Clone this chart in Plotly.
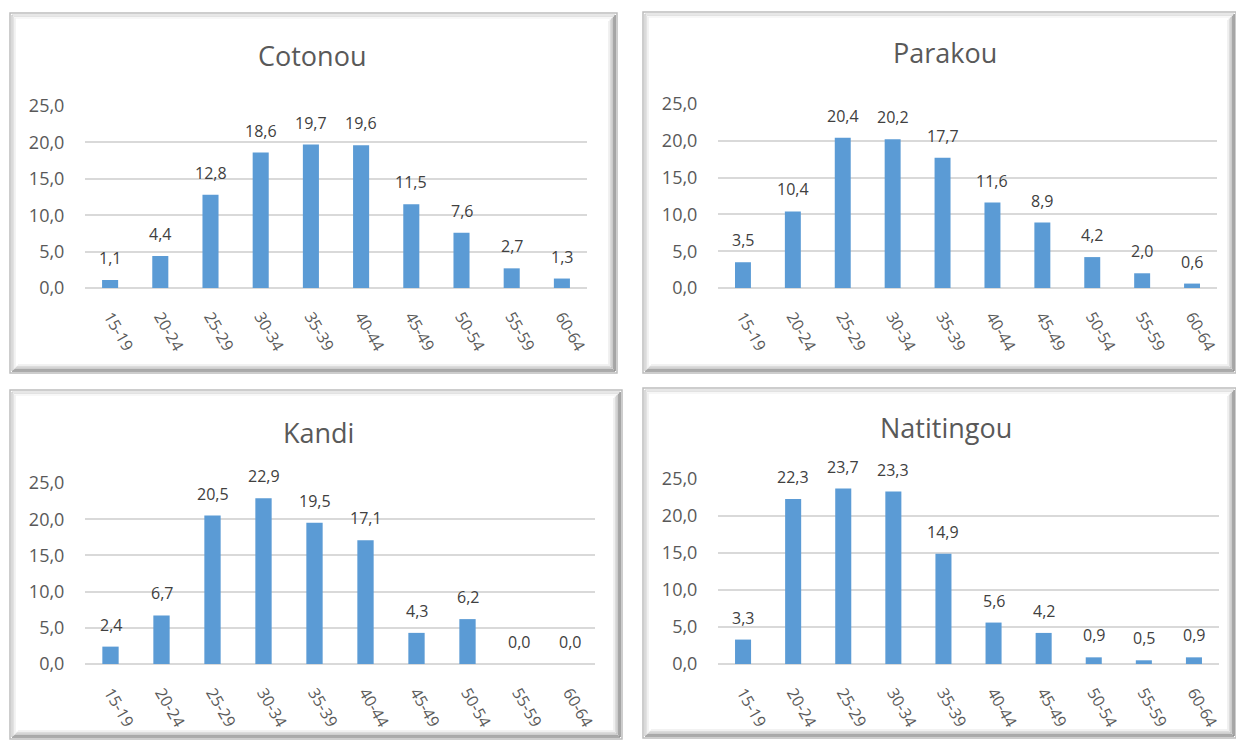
import plotly.graph_objects as go

W, H = 1236, 742

age_groups = ["15-19", "20-24", "25-29", "30-34", "35-39", "40-44", "45-49", "50-54", "55-59", "60-64"]
cotonou = [1.1, 4.4, 12.8, 18.6, 19.7, 19.6, 11.5, 7.6, 2.7, 1.3]
parakou = [3.5, 10.4, 20.4, 20.2, 17.7, 11.6, 8.9, 4.2, 2.0, 0.6]
kandi = [2.4, 6.7, 20.5, 22.9, 19.5, 17.1, 4.3, 6.2, 0.0, 0.0]
natitingou = [3.3, 22.3, 23.7, 23.3, 14.9, 5.6, 4.2, 0.9, 0.5, 0.9]
y_ticks = [0, 5, 10, 15, 20, 25]

panels = [
    # name, values, frame (x0,y0,x1,y1), plot area (x0,x1,ytop,ybottom), title pos
    ("Cotonou", cotonou, (10, 13, 617, 373), (85, 587, 106, 288), (312, 55)),
    ("Parakou", parakou, (643, 12, 1236, 373), (718, 1217, 104, 288), (945, 52)),
    ("Kandi", kandi, (10, 390, 622, 739), (85, 595, 483, 664), (318, 432)),
    ("Natitingou", natitingou, (643, 388, 1236, 738), (718, 1219, 479, 664), (946, 427)),
]

FONT = "Open Sans"
BAR = "#5B9BD5"
TXT = "#404040"
AX = "#595959"
GRID = "#D9D9D9"


def px(x):
    return x / W


def py(y):
    return 1 - y / H


fig = go.Figure()
shapes = []
annotations = []

for i, (name, vals, frame, area, tpos) in enumerate(panels):
    k = "" if i == 0 else str(i + 1)
    xa, ya = "x" + k, "y" + k
    fig.add_trace(go.Bar(
        x=age_groups, y=vals, xaxis=xa, yaxis=ya,
        marker=dict(color=BAR, line=dict(width=0)),
        width=0.32, showlegend=False, hoverinfo="x+y",
    ))
    for cat, v in zip(age_groups, vals):
        annotations.append(dict(
            x=cat, y=v, xref=xa, yref=ya, text=f"{v:.1f}".replace(".", ","),
            showarrow=False, yanchor="middle", yshift=22,
            font=dict(family=FONT, size=16, color=TXT),
        ))
    x0, x1, yt, yb = area
    fig.update_layout(**{
        "xaxis" + k: dict(
            domain=[px(x0), px(x1)], anchor=ya, tickangle=60,
            tickfont=dict(family=FONT, size=16, color=AX),
            showgrid=False, showline=False, zeroline=False,
            ticks="outside", ticklen=12, tickcolor="rgba(0,0,0,0)",
            fixedrange=True, automargin=False,
        ),
        "yaxis" + k: dict(
            domain=[py(yb), py(yt)], anchor=xa, range=[0, 25],
            tickvals=y_ticks, tickformat=".1f",
            tickfont=dict(family=FONT, size=18, color=AX),
            showgrid=True, gridcolor=GRID, gridwidth=1.5,
            zeroline=True, zerolinecolor=GRID, zerolinewidth=1.5,
            showline=False, ticks="outside", ticklen=16,
            tickcolor="rgba(0,0,0,0)", fixedrange=True, automargin=False,
        ),
    })
    annotations.append(dict(
        x=px(tpos[0]), y=py(tpos[1]), xref="paper", yref="paper",
        text=name, showarrow=False, xanchor="center", yanchor="middle",
        font=dict(family=FONT, size=27, color=AX),
    ))
    # beveled frame
    fx0, fy0, fx1, fy1 = frame
    shapes.append(dict(type="rect", xref="paper", yref="paper", layer="below",
                       x0=px(fx0), x1=px(fx1), y0=py(fy1), y1=py(fy0),
                       line=dict(color="#BDBDBD", width=1.5), fillcolor="white"))
    for off, col in [(2, "#8F8F8F"), (3.5, "#A8A8A8"), (5, "#C4C4C4"), (6.5, "#DCDCDC"), (8, "#EEEEEE")]:
        shapes.append(dict(type="line", xref="paper", yref="paper", layer="below",
                           x0=px(fx0 + off), x1=px(fx1 - off), y0=py(fy1 - off), y1=py(fy1 - off),
                           line=dict(color=col, width=1.6)))
        shapes.append(dict(type="line", xref="paper", yref="paper", layer="below",
                           x0=px(fx1 - off), x1=px(fx1 - off), y0=py(fy0 + off), y1=py(fy1 - off),
                           line=dict(color=col, width=1.6)))
    for off, col in [(2, "#D0D0D0"), (3.5, "#E2E2E2"), (5, "#F0F0F0")]:
        shapes.append(dict(type="line", xref="paper", yref="paper", layer="below",
                           x0=px(fx0 + off), x1=px(fx0 + off), y0=py(fy0 + off), y1=py(fy1 - off),
                           line=dict(color=col, width=1.6)))
        shapes.append(dict(type="line", xref="paper", yref="paper", layer="below",
                           x0=px(fx0 + off), x1=px(fx1 - off), y0=py(fy0 + off), y1=py(fy0 + off),
                           line=dict(color=col, width=1.2)))

fig.update_layout(
    width=W, height=H, margin=dict(l=0, r=0, t=0, b=0, pad=0, autoexpand=False),
    paper_bgcolor="white", plot_bgcolor="rgba(0,0,0,0)",
    separators=",.", shapes=shapes, annotations=annotations,
    font=dict(family=FONT, color=TXT), bargap=0.68, showlegend=False,
)

pin = (
    "document.documentElement.style.margin='0';"
    "document.documentElement.style.overflow='hidden';"
    "document.body.style.margin='0';"
    "document.body.style.overflow='hidden';"
    "var d=document.getElementById('{plot_id}');"
    "d.style.position='fixed';d.style.left='0px';d.style.top='0px';"
)

fig.write_html("out.html", post_script=pin, config={"displayModeBar": False})
